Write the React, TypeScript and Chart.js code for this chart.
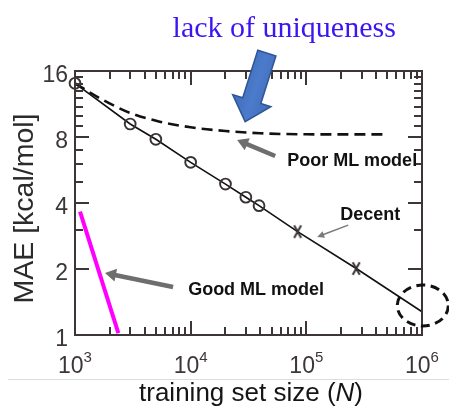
import { useEffect, useRef } from "react";
import { Chart, registerables } from "chart.js";

Chart.register(...registerables);

// ---- data ----
const decentN = [1000, 3000, 5000, 10000, 20000, 30000, 39000, 84000, 270000, 1000000];
const decentMAE = [14.06, 9.17, 7.81, 6.13, 4.88, 4.25, 3.89, 2.96, 2.01, 1.277];
const decentMarker = ["circle", "circle", "circle", "circle", "circle", "circle", "circle", "x", "x", "none"];

const poorN = [1000, 1650, 3000, 5400, 10000, 20000, 40000, 100000, 510000];
const poorMAE = [14.06, 12.0, 10.3, 9.4, 8.86, 8.52, 8.32, 8.23, 8.22];

const goodN = [1105, 2370];
const goodMAE = [3.65, 1.02];

const yTickValues = [1, 2, 4, 8, 16];
const yTickLabels = ["1", "2", "4", "8", "16"];
const yMinorTicks = [3, 5, 6, 7, 9, 10, 11, 12, 13, 14, 15];
const xTickValues = [1e3, 1e4, 1e5, 1e6];
const xTickExponents = ["3", "4", "5", "6"];
const xMinorMultipliers = [2, 3, 4, 5, 6, 7, 8, 9];

const xTitle = "training set size (";
const xTitleItalic = "N";
const xTitleEnd = ")";
const yTitle = "MAE [kcal/mol]";
const topNote = "lack of uniqueness";

// annotation anchors in data coordinates [N, MAE]
const notePoorText: [number, number] = [68230, 5.9];
const noteDecentText: [number, number] = [196400, 3.35];
const noteGoodText: [number, number] = [9508, 1.522];
const noteTop: [number, number] = [64350, 22.9];
const arrowPoor: [number, number][] = [[53770, 6.55], [25210, 7.75]];
const arrowDecent: [number, number][] = [[230200, 3.17], [124200, 2.8]];
const arrowGood: [number, number][] = [[7047, 1.655], [1818, 1.918]];
const arrowBlue: [number, number][] = [[45570, 19.3], [29580, 9.4]];
const ellipseCenter: [number, number] = [1016000, 1.363];

const SANS = '"Liberation Sans", Arial, Helvetica, sans-serif';
const SERIF = '"Liberation Serif", "Times New Roman", serif';
const AXIS_COLOR = "#3e3636";
const TICK_TEXT = "#3d3636";

function makeCross(): HTMLCanvasElement {
  const c = document.createElement("canvas");
  c.width = 10;
  c.height = 15;
  const g = c.getContext("2d")!;
  g.strokeStyle = "#3a3232";
  g.lineWidth = 2;
  g.beginPath();
  g.moveTo(1.5, 1.2);
  g.lineTo(8.5, 13.8);
  g.moveTo(8.5, 1.2);
  g.lineTo(1.5, 13.8);
  g.stroke();
  return c;
}

export default function App() {
  const ref = useRef<HTMLCanvasElement | null>(null);

  useEffect(() => {
    if (!ref.current) return;
    const cross = makeCross();

    const P = (chart: any, p: [number, number]) => [
      chart.scales.x.getPixelForValue(p[0]),
      chart.scales.y.getPixelForValue(p[1]),
    ];

    const tickPlugin = {
      id: "ticksFrame",
      afterDraw(chart: any) {
        const ctx: CanvasRenderingContext2D = chart.ctx;
        const ca = chart.chartArea;
        const left = Math.round(ca.left);
        const right = Math.round(ca.right);
        const top = Math.round(ca.top);
        const bottom = Math.round(ca.bottom);
        const xs = chart.scales.x;
        const ys = chart.scales.y;
        ctx.save();
        ctx.fillStyle = AXIS_COLOR;
        // frame as filled bars
        ctx.fillRect(left - 1, top - 1, right - left + 2, 2);
        ctx.fillRect(left - 1, bottom - 1, right - left + 2, 2);
        ctx.fillRect(left - 1, top - 1, 2, bottom - top + 2);
        ctx.fillRect(right - 1, top - 1, 2, bottom - top + 2);
        // x ticks (inward, top and bottom)
        xTickValues.forEach((base, i) => {
          const px = Math.round(xs.getPixelForValue(base));
          ctx.fillRect(px - 1, bottom - 14, 2, 14);
          ctx.fillRect(px - 1, top, 2, 14);
          if (i < xTickValues.length - 1) {
            xMinorMultipliers.forEach((m) => {
              const q = Math.round(xs.getPixelForValue(base * m));
              ctx.fillRect(q - 1, bottom - 8, 2, 8);
              ctx.fillRect(q - 1, top, 2, 8);
            });
          }
        });
        // y ticks (inward, left and right)
        yTickValues.forEach((v) => {
          const py = Math.round(ys.getPixelForValue(v));
          ctx.fillRect(left, py - 1, 14, 2);
          ctx.fillRect(right - 14, py - 1, 14, 2);
        });
        yMinorTicks.forEach((v) => {
          const py = Math.round(ys.getPixelForValue(v));
          ctx.fillRect(left, py - 1, 8, 2);
          ctx.fillRect(right - 8, py - 1, 8, 2);
        });
        ctx.restore();
      },
    };

    const plugin = {
      id: "figure",
      afterDraw(chart: any) {
        const ctx: CanvasRenderingContext2D = chart.ctx;
        const { left, bottom } = chart.chartArea;
        const xs = chart.scales.x;
        const ys = chart.scales.y;
        ctx.save();

        // y tick labels
        ctx.fillStyle = TICK_TEXT;
        ctx.font = `23px ${SANS}`;
        ctx.textAlign = "right";
        ctx.textBaseline = "alphabetic";
        yTickValues.forEach((v, i) => {
          ctx.fillText(yTickLabels[i], left - 7, ys.getPixelForValue(v) + 10.5);
        });

        // x tick labels with superscripts
        xTickValues.forEach((v, i) => {
          const px = xs.getPixelForValue(v);
          ctx.font = `23px ${SANS}`;
          const wb = ctx.measureText("10").width;
          ctx.font = `15px ${SANS}`;
          const we = ctx.measureText(xTickExponents[i]).width;
          const x0 = px - (wb + we) / 2;
          ctx.textAlign = "left";
          ctx.font = `23px ${SANS}`;
          ctx.fillText("10", x0, bottom + 38);
          ctx.font = `15px ${SANS}`;
          ctx.fillText(xTickExponents[i], x0 + wb, bottom + 27);
        });

        // separator line
        ctx.strokeStyle = "#dddddd";
        ctx.lineWidth = 1;
        ctx.beginPath();
        ctx.moveTo(8, 379.5);
        ctx.lineTo(449, 379.5);
        ctx.stroke();

        // x title
        ctx.fillStyle = "#151515";
        ctx.font = `26px ${SANS}`;
        const w1 = ctx.measureText(xTitle).width;
        const w3 = ctx.measureText(xTitleEnd).width;
        ctx.font = `italic 26px ${SANS}`;
        const w2 = ctx.measureText(xTitleItalic).width;
        const tx = 251 - (w1 + w2 + w3) / 2;
        ctx.textAlign = "left";
        ctx.font = `26px ${SANS}`;
        ctx.fillText(xTitle, tx, 401);
        ctx.font = `italic 26px ${SANS}`;
        ctx.fillText(xTitleItalic, tx + w1, 401);
        ctx.font = `26px ${SANS}`;
        ctx.fillText(xTitleEnd, tx + w1 + w2, 401);

        // y title
        ctx.save();
        ctx.translate(33.3, 208.5);
        ctx.rotate(-Math.PI / 2);
        ctx.textAlign = "center";
        ctx.fillStyle = "#2b2b2b";
        ctx.font = `28.5px ${SANS}`;
        ctx.fillText(yTitle, 0, 0);
        ctx.restore();

        // gray arrows
        const grayArrow = (pts: [number, number][], lw: number, hl: number, hw: number, color: string) => {
          const [x1, y1] = P(chart, pts[0]);
          const [x2, y2] = P(chart, pts[1]);
          const dx = x2 - x1, dy = y2 - y1;
          const L = Math.hypot(dx, dy);
          const ux = dx / L, uy = dy / L;
          const nx = -uy, ny = ux;
          const bx = x2 - ux * hl, by = y2 - uy * hl;
          ctx.strokeStyle = color;
          ctx.fillStyle = color;
          ctx.lineWidth = lw;
          ctx.beginPath();
          ctx.moveTo(x1, y1);
          ctx.lineTo(bx + ux * 1, by + uy * 1);
          ctx.stroke();
          ctx.beginPath();
          ctx.moveTo(x2, y2);
          ctx.lineTo(bx + nx * hw / 2, by + ny * hw / 2);
          ctx.lineTo(bx - nx * hw / 2, by - ny * hw / 2);
          ctx.closePath();
          ctx.fill();
        };
        grayArrow(arrowPoor, 4.5, 11, 13, "#6e6e6e");
        grayArrow(arrowGood, 4.5, 11, 13, "#6e6e6e");
        grayArrow(arrowDecent, 1.5, 7, 7, "#7a7a7a");

        // blue block arrow
        {
          const [x1, y1] = P(chart, arrowBlue[0]);
          const [x2, y2] = P(chart, arrowBlue[1]);
          const dx = x2 - x1, dy = y2 - y1;
          const L = Math.hypot(dx, dy);
          const ux = dx / L, uy = dy / L;
          const nx = -uy, ny = ux;
          const sw = 19, hw = 40, hl = 22;
          const bx = x2 - ux * hl, by = y2 - uy * hl;
          const grad = ctx.createLinearGradient(x1 + nx * hw / 2, y1 + ny * hw / 2, x1 - nx * hw / 2, y1 - ny * hw / 2);
          grad.addColorStop(0, "#3f6db8");
          grad.addColorStop(0.5, "#4c7bcc");
          grad.addColorStop(1, "#3f6db8");
          ctx.beginPath();
          ctx.moveTo(x1 + nx * sw / 2, y1 + ny * sw / 2);
          ctx.lineTo(bx + nx * sw / 2, by + ny * sw / 2);
          ctx.lineTo(bx + nx * hw / 2, by + ny * hw / 2);
          ctx.lineTo(x2, y2);
          ctx.lineTo(bx - nx * hw / 2, by - ny * hw / 2);
          ctx.lineTo(bx - nx * sw / 2, by - ny * sw / 2);
          ctx.lineTo(x1 - nx * sw / 2, y1 - ny * sw / 2);
          ctx.closePath();
          ctx.fillStyle = grad;
          ctx.fill();
          ctx.strokeStyle = "#2f5597";
          ctx.lineWidth = 1.5;
          ctx.stroke();
        }

        // dashed ellipse
        {
          const [cx, cy] = P(chart, ellipseCenter);
          ctx.beginPath();
          ctx.ellipse(cx, cy, 25.5, 20.5, 0, 0, Math.PI * 2);
          ctx.setLineDash([9, 5.5]);
          ctx.lineWidth = 3;
          ctx.strokeStyle = "#111111";
          ctx.stroke();
          ctx.setLineDash([]);
        }

        // annotation texts
        ctx.fillStyle = "#111111";
        ctx.font = `bold 18px ${SANS}`;
        ctx.textAlign = "left";
        const t1 = P(chart, notePoorText);
        ctx.fillText("Poor ML model", t1[0], t1[1]);
        const t2 = P(chart, noteDecentText);
        ctx.fillText("Decent", t2[0], t2[1]);
        const t3 = P(chart, noteGoodText);
        ctx.fillText("Good ML model", t3[0], t3[1]);

        const t4 = P(chart, noteTop);
        ctx.fillStyle = "#3d14f2";
        ctx.font = `30px ${SERIF}`;
        ctx.textAlign = "center";
        ctx.fillText(topNote, t4[0], t4[1]);

        ctx.restore();
      },
    };

    const chart = new Chart(ref.current, {
      type: "line",
      data: {
        datasets: [
          {
            label: "Decent",
            data: decentN.map((n, i) => ({ x: n, y: decentMAE[i] })),
            borderColor: "#111111",
            borderWidth: 1.6,
            pointStyle: decentMarker.map((m) => (m === "x" ? cross : "circle")) as any,
            pointRadius: decentMarker.map((m) => (m === "circle" ? 5.4 : m === "x" ? 7 : 0)),
            pointBorderColor: "#3a3232",
            pointBackgroundColor: "rgba(0,0,0,0)",
            pointBorderWidth: 1.9,
            tension: 0,
            clip: false as any,
          },
          {
            label: "Poor ML model",
            data: poorN.map((n, i) => ({ x: n, y: poorMAE[i] })),
            borderColor: "#111111",
            borderWidth: 2.6,
            borderDash: [11, 6],
            pointRadius: 0,
            cubicInterpolationMode: "monotone",
            clip: false as any,
          },
          {
            label: "Good ML model",
            data: goodN.map((n, i) => ({ x: n, y: goodMAE[i] })),
            borderColor: "#ff00ff",
            borderWidth: 4,
            pointRadius: 0,
            clip: false as any,
          },
        ],
      },
      options: {
        responsive: false,
        animation: false,
        layout: { padding: { left: 75, right: 27, top: 71, bottom: 81 } },
        plugins: { legend: { display: false }, tooltip: { enabled: false } },
        scales: {
          x: { type: "logarithmic", min: 1000, max: 1000000, display: false },
          y: { type: "logarithmic", min: 1, max: 16, display: false },
        },
      },
      plugins: [tickPlugin, plugin],
    });
    return () => chart.destroy();
  }, []);

  return (
    <div style={{ position: "absolute", left: 0, top: 0, width: 449, height: 416, background: "#ffffff" }}>
      <canvas ref={ref} width={449} height={416} style={{ display: "block" }} />
    </div>
  );
}
